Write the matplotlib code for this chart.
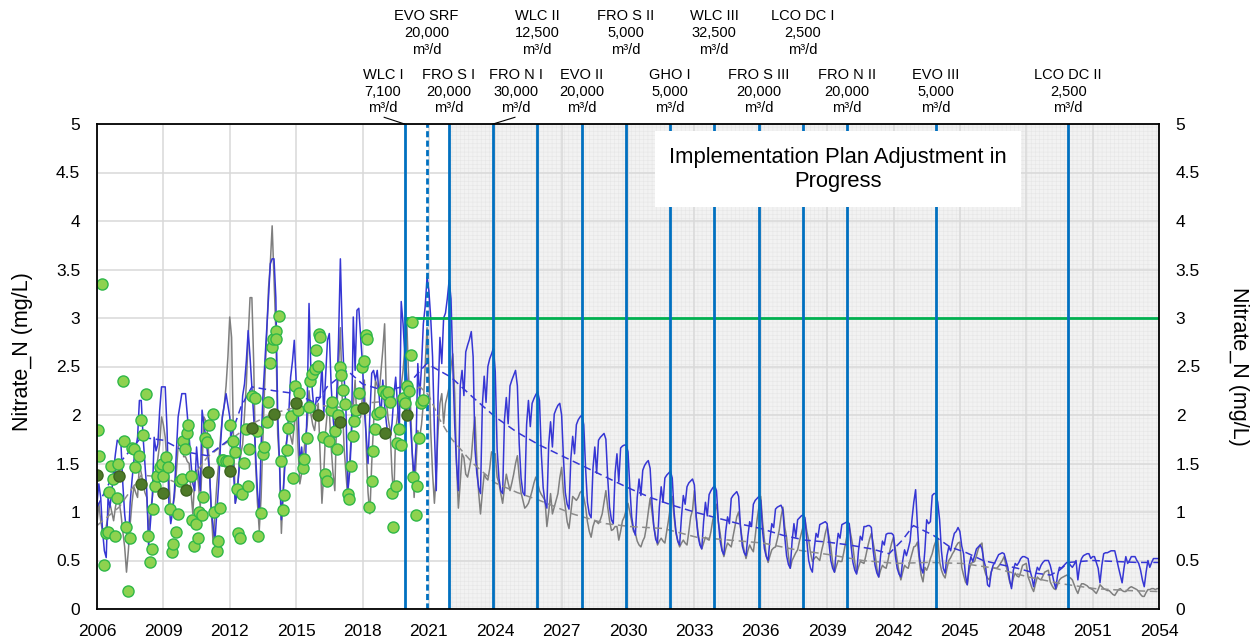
import numpy as np
import matplotlib
matplotlib.use("Agg")
import matplotlib.pyplot as plt
from matplotlib.transforms import blended_transform_factory
from matplotlib.patches import Rectangle

plt.rcParams['font.family'] = ['Liberation Sans', 'DejaVu Sans']
plt.rcParams['hatch.linewidth'] = 0.4

# ---------------- data ----------------
start_year = 2006
# Simulated blue series, monthly values (Jan..Dec), 2006-2021
blue_hist = [
    [1.09, 1.29, 1.15, 0.81, 0.60, 0.53, 1.15, 1.05, 1.20, 1.43, 1.60, 1.74],
    [1.72, 1.70, 1.29, 0.98, 0.80, 0.67, 1.10, 1.33, 1.53, 1.65, 1.77, 2.15],
    [2.15, 1.77, 1.50, 1.22, 0.64, 0.90, 1.15, 1.77, 1.63, 1.70, 2.05, 2.29],
    [2.29, 2.29, 1.84, 1.09, 0.88, 1.00, 1.22, 1.60, 1.98, 2.10, 2.22, 2.22],
    [2.22, 2.00, 1.77, 1.50, 1.29, 1.22, 1.67, 1.43, 1.22, 2.05, 1.90, 1.77],
    [1.60, 1.43, 1.01, 0.85, 0.71, 1.00, 1.29, 1.70, 1.98, 2.10, 2.22, 2.10],
    [1.98, 1.70, 1.43, 1.09, 1.20, 1.43, 1.84, 2.20, 2.32, 2.56, 2.87, 2.60],
    [2.29, 1.98, 1.60, 1.22, 0.98, 1.67, 2.20, 2.53, 2.87, 3.20, 3.56, 3.61],
    [3.61, 3.21, 2.01, 1.50, 0.92, 1.20, 1.50, 1.75, 2.01, 2.39, 2.55, 2.77],
    [2.36, 2.12, 1.50, 1.67, 1.43, 1.43, 2.12, 3.15, 2.46, 2.20, 2.01, 2.18],
    [2.18, 2.18, 2.53, 2.00, 2.40, 2.77, 2.84, 2.30, 1.98, 1.77, 2.20, 2.77],
    [3.61, 2.87, 2.40, 2.08, 1.22, 1.40, 1.77, 3.01, 2.46, 3.08, 3.10, 2.80],
    [2.53, 2.05, 1.80, 1.50, 2.00, 2.43, 2.46, 2.36, 2.46, 2.20, 1.98, 2.36],
    [2.10, 1.91, 1.77, 1.77, 1.91, 2.20, 2.39, 2.10, 1.84, 3.17, 2.94, 2.60],
    [2.40, 2.20, 1.91, 1.60, 1.36, 1.67, 2.53, 2.18, 2.50, 2.94, 3.12, 3.42],
    [3.28, 3.00, 2.60, 1.84, 1.22, 2.20, 2.80, 2.53, 3.00, 3.05, 3.20, 3.39],
]
# Blue series forecast, 2022-2053, plus Jan 2054
blue_future = [
    [3.20, 2.50, 1.90, 1.50, 1.22, 2.30, 2.46, 2.20, 2.65, 2.72, 2.78, 2.86],
    [2.60, 1.65, 1.40, 1.25, 1.19, 2.10, 2.40, 2.13, 2.50, 2.58, 2.63, 2.69],
    [2.45, 1.65, 1.35, 1.22, 1.19, 1.95, 2.18, 1.91, 2.30, 2.36, 2.41, 2.46],
    [2.30, 1.70, 1.35, 1.20, 1.17, 1.90, 2.15, 1.88, 2.12, 2.17, 2.21, 2.24],
    [2.15, 1.60, 1.25, 1.10, 1.04, 1.70, 1.93, 1.67, 2.01, 2.06, 2.10, 2.12],
    [2.00, 1.55, 1.20, 1.08, 1.03, 1.55, 1.78, 1.60, 1.90, 1.95, 1.98, 2.00],
    [1.90, 1.45, 1.10, 0.98, 0.94, 1.45, 1.67, 1.40, 1.74, 1.77, 1.79, 1.81],
    [1.75, 1.35, 1.05, 0.92, 0.88, 1.40, 1.60, 1.31, 1.66, 1.68, 1.69, 1.69],
    [1.62, 1.25, 0.95, 0.82, 0.76, 1.15, 1.34, 1.17, 1.43, 1.48, 1.51, 1.53],
    [1.45, 1.10, 0.85, 0.72, 0.68, 1.05, 1.26, 1.10, 1.35, 1.38, 1.40, 1.42],
    [1.35, 1.00, 0.80, 0.70, 0.66, 0.95, 1.17, 1.08, 1.26, 1.30, 1.32, 1.34],
    [1.28, 0.95, 0.75, 0.66, 0.62, 0.90, 1.10, 0.96, 1.18, 1.22, 1.25, 1.27],
    [1.22, 0.90, 0.70, 0.60, 0.56, 0.80, 0.95, 0.88, 1.14, 1.17, 1.19, 1.21],
    [1.16, 0.85, 0.65, 0.58, 0.55, 0.75, 0.90, 0.85, 1.08, 1.12, 1.14, 1.16],
    [1.12, 0.80, 0.62, 0.54, 0.50, 0.72, 0.88, 0.84, 1.03, 1.05, 1.06, 1.07],
    [1.02, 0.75, 0.55, 0.46, 0.42, 0.70, 0.88, 0.74, 0.92, 0.94, 0.96, 0.97],
    [0.94, 0.70, 0.50, 0.42, 0.38, 0.62, 0.78, 0.74, 0.87, 0.88, 0.89, 0.90],
    [0.88, 0.68, 0.50, 0.42, 0.38, 0.62, 0.78, 0.73, 0.87, 0.88, 0.89, 0.90],
    [0.88, 0.65, 0.48, 0.40, 0.36, 0.60, 0.75, 0.71, 0.85, 0.85, 0.86, 0.86],
    [0.84, 0.60, 0.45, 0.37, 0.33, 0.55, 0.70, 0.66, 0.77, 0.78, 0.78, 0.78],
    [0.76, 0.55, 0.42, 0.36, 0.33, 0.50, 0.61, 0.55, 0.62, 0.70, 0.92, 1.10],
    [1.23, 0.85, 0.55, 0.42, 0.37, 0.60, 0.92, 0.88, 0.90, 1.17, 1.19, 1.19],
    [1.10, 0.92, 0.60, 0.42, 0.37, 0.55, 0.64, 0.60, 0.70, 0.78, 0.80, 0.84],
    [0.80, 0.65, 0.57, 0.35, 0.25, 0.45, 0.54, 0.49, 0.55, 0.62, 0.64, 0.66],
    [0.62, 0.50, 0.43, 0.25, 0.23, 0.38, 0.45, 0.48, 0.52, 0.56, 0.57, 0.58],
    [0.57, 0.50, 0.43, 0.30, 0.21, 0.40, 0.47, 0.45, 0.48, 0.52, 0.54, 0.54],
    [0.53, 0.52, 0.40, 0.33, 0.23, 0.35, 0.43, 0.40, 0.45, 0.48, 0.50, 0.50],
    [0.50, 0.45, 0.37, 0.28, 0.21, 0.35, 0.43, 0.42, 0.44, 0.46, 0.48, 0.48],
    [0.45, 0.43, 0.46, 0.50, 0.30, 0.45, 0.52, 0.55, 0.56, 0.57, 0.57, 0.52],
    [0.54, 0.54, 0.48, 0.42, 0.27, 0.45, 0.57, 0.58, 0.58, 0.59, 0.60, 0.60],
    [0.60, 0.52, 0.43, 0.35, 0.27, 0.42, 0.54, 0.47, 0.50, 0.54, 0.54, 0.54],
    [0.50, 0.47, 0.40, 0.30, 0.23, 0.38, 0.50, 0.43, 0.48, 0.52, 0.52, 0.52],
]
blue_last = [0.52]

# Gray series, monthly values (Jan..Dec), 2006-2021
gray_hist = [
    [0.88, 1.09, 0.91, 0.80, 0.74, 0.85, 0.95, 1.09, 1.00, 0.91, 1.05, 1.15],
    [1.10, 0.98, 0.80, 0.64, 0.38, 0.60, 0.88, 1.10, 1.26, 1.20, 1.15, 1.50],
    [1.40, 1.29, 1.20, 1.15, 0.81, 1.00, 1.15, 1.30, 1.43, 1.55, 1.70, 1.98],
    [1.90, 1.77, 1.50, 1.36, 0.98, 1.05, 1.15, 1.40, 1.67, 1.72, 1.77, 1.57],
    [1.57, 1.52, 1.50, 1.20, 0.98, 1.36, 1.43, 1.30, 1.05, 1.50, 1.98, 1.94],
    [1.80, 1.43, 1.00, 0.67, 1.00, 1.29, 1.50, 1.77, 1.98, 2.10, 2.30, 2.60],
    [3.01, 2.80, 1.77, 1.09, 1.20, 1.43, 1.60, 1.70, 2.00, 2.32, 2.80, 3.21],
    [3.21, 2.53, 1.50, 1.10, 0.81, 1.15, 1.77, 2.35, 2.80, 3.30, 3.56, 3.95],
    [3.40, 2.87, 1.80, 1.50, 0.78, 1.20, 1.64, 1.75, 1.84, 1.78, 1.70, 1.90],
    [2.12, 1.67, 1.29, 1.40, 1.57, 1.77, 1.90, 2.25, 2.01, 1.90, 1.84, 2.00],
    [2.12, 1.60, 1.09, 1.40, 1.84, 2.05, 2.05, 1.67, 1.40, 1.22, 2.00, 2.50],
    [2.90, 2.18, 1.67, 1.40, 1.15, 1.50, 1.84, 2.10, 2.36, 1.91, 1.95, 1.98],
    [2.20, 2.36, 1.67, 1.20, 0.98, 1.50, 1.90, 2.36, 2.30, 2.22, 2.45, 2.67],
    [2.94, 2.12, 1.95, 1.84, 1.40, 1.15, 1.84, 2.00, 2.18, 2.30, 2.46, 2.70],
    [2.98, 2.40, 2.12, 1.60, 1.15, 1.50, 1.84, 1.77, 1.90, 2.12, 2.50, 2.90],
    [2.46, 1.84, 1.40, 1.09, 1.40, 1.84, 2.12, 2.22, 1.91, 2.12, 2.20, 2.29],
]
# Gray series forecast, 2022-2053, plus Jan 2054
gray_future = [
    [2.50, 2.63, 2.22, 1.50, 1.04, 1.30, 1.60, 1.56, 1.39, 1.36, 1.45, 1.56],
    [1.80, 1.98, 1.53, 1.20, 0.98, 1.20, 1.39, 1.35, 1.33, 1.45, 1.62, 1.60],
    [1.60, 1.36, 1.30, 1.19, 1.09, 1.25, 1.39, 1.30, 1.22, 1.30, 1.39, 1.50],
    [1.58, 1.36, 1.20, 1.12, 1.04, 1.06, 1.09, 1.15, 1.22, 1.30, 1.36, 1.30],
    [1.22, 1.18, 1.15, 1.12, 0.85, 1.00, 1.19, 0.98, 1.05, 1.12, 1.19, 1.35],
    [1.46, 1.20, 1.05, 0.90, 0.83, 1.00, 1.16, 1.14, 1.12, 1.15, 1.20, 1.22],
    [1.15, 1.05, 0.90, 0.80, 0.74, 0.85, 0.91, 0.90, 0.88, 0.92, 0.98, 1.10],
    [1.22, 1.05, 0.91, 0.81, 0.82, 0.85, 0.85, 0.71, 0.80, 0.91, 0.95, 1.02],
    [1.09, 1.00, 0.90, 0.80, 0.78, 0.70, 0.66, 0.64, 0.70, 0.74, 0.85, 1.00],
    [1.14, 1.00, 0.85, 0.75, 0.66, 0.70, 0.73, 0.70, 0.68, 0.80, 0.92, 1.05],
    [1.16, 0.95, 0.78, 0.70, 0.64, 0.68, 0.71, 0.68, 0.66, 0.80, 0.95, 1.02],
    [1.22, 0.95, 0.78, 0.68, 0.62, 0.68, 0.74, 0.72, 0.71, 0.80, 0.92, 1.00],
    [1.08, 0.90, 0.78, 0.62, 0.54, 0.62, 0.68, 0.66, 0.64, 0.75, 0.85, 0.95],
    [1.00, 0.85, 0.71, 0.60, 0.52, 0.60, 0.66, 0.62, 0.59, 0.75, 0.92, 1.05],
    [1.16, 0.90, 0.71, 0.55, 0.48, 0.55, 0.61, 0.63, 0.64, 0.72, 0.81, 0.95],
    [1.05, 0.85, 0.74, 0.55, 0.42, 0.50, 0.54, 0.58, 0.61, 0.70, 0.78, 0.85],
    [0.92, 0.80, 0.71, 0.58, 0.49, 0.52, 0.54, 0.52, 0.50, 0.60, 0.68, 0.78],
    [0.85, 0.75, 0.64, 0.48, 0.38, 0.44, 0.50, 0.49, 0.49, 0.58, 0.68, 0.78],
    [0.85, 0.75, 0.64, 0.48, 0.37, 0.43, 0.49, 0.48, 0.47, 0.55, 0.64, 0.72],
    [0.78, 0.68, 0.57, 0.42, 0.33, 0.40, 0.45, 0.43, 0.42, 0.50, 0.60, 0.68],
    [0.74, 0.62, 0.50, 0.38, 0.30, 0.38, 0.45, 0.43, 0.42, 0.50, 0.57, 0.64],
    [0.65, 0.69, 0.50, 0.35, 0.28, 0.43, 0.40, 0.45, 0.52, 0.57, 0.65, 0.70],
    [0.73, 0.49, 0.40, 0.35, 0.32, 0.42, 0.50, 0.53, 0.57, 0.60, 0.65, 0.68],
    [0.69, 0.43, 0.35, 0.28, 0.25, 0.40, 0.47, 0.48, 0.49, 0.55, 0.62, 0.66],
    [0.68, 0.43, 0.36, 0.32, 0.30, 0.38, 0.43, 0.42, 0.42, 0.44, 0.47, 0.50],
    [0.54, 0.45, 0.37, 0.28, 0.23, 0.32, 0.37, 0.34, 0.33, 0.38, 0.45, 0.46],
    [0.47, 0.33, 0.28, 0.22, 0.18, 0.26, 0.33, 0.31, 0.30, 0.34, 0.38, 0.39],
    [0.40, 0.28, 0.24, 0.21, 0.20, 0.25, 0.30, 0.32, 0.33, 0.34, 0.35, 0.33],
    [0.32, 0.30, 0.25, 0.20, 0.16, 0.22, 0.26, 0.26, 0.25, 0.24, 0.22, 0.21],
    [0.20, 0.18, 0.16, 0.20, 0.25, 0.23, 0.21, 0.20, 0.19, 0.19, 0.17, 0.15],
    [0.14, 0.17, 0.20, 0.21, 0.19, 0.18, 0.18, 0.20, 0.22, 0.23, 0.22, 0.21],
    [0.20, 0.18, 0.15, 0.13, 0.13, 0.17, 0.20, 0.20, 0.21, 0.21, 0.20, 0.21],
]
gray_last = [0.21]

# Trend lines (12-month averages)
blue_trend_x = [2006.0, 2007.0, 2008.0, 2009.0, 2010.0, 2011.0, 2012.0, 2012.5, 2013.0, 2014.0,
                2015.0, 2015.9, 2016.4, 2017.0, 2017.3, 2018.0, 2019.0, 2020.0, 2020.9, 2022.0,
                2023.0, 2024.0, 2025.0, 2026.0, 2027.0, 2028.0, 2029.0, 2030.0, 2031.0, 2032.0,
                2033.0, 2034.0, 2035.0, 2036.0, 2037.0, 2038.0, 2039.0, 2040.0, 2041.0, 2041.8,
                2042.4, 2042.9, 2043.8, 2044.55, 2045.3, 2046.05, 2046.8, 2047.6, 2048.4, 2049.1,
                2049.5, 2049.9, 2051.0, 2052.0, 2053.0, 2054.0]
blue_trend = [1.05, 1.50, 1.77, 1.74, 1.62, 1.58, 1.75, 2.08, 2.29, 2.25,
              2.22, 2.12, 2.29, 2.40, 2.46, 2.32, 2.25, 2.30, 2.53, 2.39,
              2.18, 1.98, 1.82, 1.69, 1.58, 1.47, 1.36, 1.25, 1.15, 1.07,
              1.00, 0.94, 0.88, 0.83, 0.76, 0.71, 0.69, 0.66, 0.62, 0.57,
              0.71, 0.86, 0.76, 0.64, 0.58, 0.50, 0.46, 0.42, 0.37, 0.35,
              0.40, 0.48, 0.50, 0.49, 0.48, 0.48]
gray_trend_x = [2006.0, 2007.0, 2008.0, 2009.0, 2010.0, 2011.0, 2012.0, 2013.0, 2014.0, 2015.0,
                2016.0, 2017.0, 2018.0, 2019.0, 2020.0, 2020.6, 2021.0, 2021.5, 2022.0, 2023.0,
                2024.0, 2025.0, 2026.0, 2027.5, 2029.0, 2030.1, 2031.6, 2033.1, 2034.6, 2036.1,
                2037.6, 2039.1, 2040.6, 2042.1, 2043.6, 2045.1, 2046.6, 2048.1, 2049.6, 2051.1,
                2052.6, 2054.0]
gray_trend = [0.86, 1.05, 1.38, 1.36, 1.26, 1.57, 1.74, 1.91, 2.02, 2.08,
              2.10, 2.08, 2.12, 2.14, 2.20, 2.29, 2.20, 1.95, 1.76, 1.50,
              1.30, 1.20, 1.12, 0.98, 0.88, 0.85, 0.83, 0.74, 0.71, 0.68,
              0.61, 0.56, 0.50, 0.47, 0.48, 0.47, 0.42, 0.33, 0.26, 0.21,
              0.19, 0.18]

# Observed samples
obs_year = [2006.06, 2006.10, 2006.24, 2006.32, 2006.40, 2006.48, 2006.56, 2006.63, 2006.74, 2006.81,
            2006.89, 2006.96, 2007.16, 2007.24, 2007.31, 2007.39, 2007.49, 2007.57, 2007.67, 2007.72,
            2007.91, 2007.97, 2008.06, 2008.21, 2008.32, 2008.40, 2008.47, 2008.55, 2008.62, 2008.70,
            2008.85, 2008.92, 2009.00, 2009.10, 2009.22, 2009.30, 2009.37, 2009.45, 2009.56, 2009.65,
            2009.75, 2009.83, 2009.90, 2009.98, 2010.05, 2010.13, 2010.23, 2010.28, 2010.40, 2010.47,
            2010.55, 2010.62, 2010.73, 2010.80, 2010.88, 2010.96, 2011.08, 2011.23, 2011.29, 2011.41,
            2011.48, 2011.56, 2011.63, 2011.71, 2011.82, 2011.92, 2012.01, 2012.13, 2012.24, 2012.31,
            2012.39, 2012.46, 2012.57, 2012.66, 2012.72, 2012.83, 2012.89, 2013.02, 2013.14, 2013.22,
            2013.29, 2013.41, 2013.49, 2013.55, 2013.67, 2013.71, 2013.82, 2013.90, 2013.95, 2014.08,
            2014.10, 2014.23, 2014.30, 2014.39, 2014.47, 2014.57, 2014.65, 2014.77, 2014.87, 2014.95,
            2015.07, 2015.14, 2015.33, 2015.36, 2015.48, 2015.60, 2015.63, 2015.73, 2015.85, 2015.90,
            2015.97, 2016.05, 2016.10, 2016.20, 2016.30, 2016.38, 2016.50, 2016.58, 2016.64, 2016.76,
            2016.83, 2016.90, 2016.98, 2017.05, 2017.10, 2017.21, 2017.36, 2017.41, 2017.47, 2017.56,
            2017.63, 2017.71, 2017.86, 2017.96, 2018.08, 2018.15, 2018.20, 2018.31, 2018.41, 2018.49,
            2018.56, 2018.64, 2018.79, 2018.91, 2019.05, 2019.14, 2019.24, 2019.32, 2019.39, 2019.50,
            2019.54, 2019.65, 2019.74, 2019.85, 2019.92, 2020.00, 2020.10, 2020.18, 2020.24, 2020.30,
            2020.42, 2020.48, 2020.57, 2020.63, 2020.75]
obs_val = [1.85, 1.58, 3.35, 0.45, 0.78, 0.79, 1.21, 1.47, 1.34, 0.75,
           1.14, 1.49, 2.35, 1.73, 0.85, 0.19, 0.73, 1.66, 1.65, 1.46,
           1.58, 1.95, 1.79, 2.22, 0.75, 0.48, 0.62, 1.03, 1.27, 1.37,
           1.46, 1.49, 1.37, 1.57, 1.46, 1.03, 0.59, 0.67, 0.79, 0.98,
           1.32, 1.34, 1.73, 1.65, 1.81, 1.90, 1.37, 0.92, 0.65, 0.88,
           0.73, 1.00, 0.97, 1.15, 1.76, 1.72, 1.90, 2.01, 1.00, 0.60,
           0.70, 1.04, 1.54, 1.54, 1.53, 1.53, 1.90, 1.73, 1.62, 1.24,
           0.78, 0.73, 1.19, 1.51, 1.86, 1.27, 1.65, 2.20, 2.18, 1.83,
           0.75, 0.99, 1.60, 1.67, 1.93, 2.13, 2.54, 2.70, 2.78, 2.87,
           2.78, 3.02, 1.53, 1.02, 1.18, 1.64, 1.87, 1.99, 1.35, 2.30,
           2.05, 2.23, 1.45, 1.55, 1.76, 2.08, 2.35, 2.42, 2.47, 2.67,
           2.51, 2.84, 2.80, 1.77, 1.39, 1.32, 1.73, 2.05, 2.13, 1.84,
           1.65, 2.00, 2.49, 2.41, 2.26, 2.11, 1.19, 1.13, 1.47, 1.78,
           1.94, 2.05, 2.23, 2.49, 2.56, 2.82, 2.78, 1.05, 1.32, 1.63,
           1.86, 2.01, 2.03, 2.25, 2.22, 2.24, 2.13, 1.20, 0.85, 1.27,
           1.71, 1.86, 1.69, 2.18, 2.12, 2.30, 2.25, 2.62, 2.96, 1.36,
           0.97, 1.27, 1.76, 2.12, 2.15]

# Annual averages of observations
annual_year = [2006, 2007, 2008, 2009, 2010, 2011, 2012, 2013, 2014, 2015, 2016, 2017, 2018, 2019, 2020]
annual_val = [1.38, 1.37, 1.29, 1.20, 1.23, 1.41, 1.42, 1.87, 2.01, 2.12, 2.00, 1.93, 2.07, 1.81, 2.00]

# Projects (upper / lower annotation rows)
upper_names = ["EVO SRF", "WLC II", "FRO S II", "WLC III", "LCO DC I"]
upper_flows = ["20,000", "12,500", "5,000", "32,500", "2,500"]
upper_years = [2020.9, 2025.9, 2029.9, 2033.9, 2037.9]
lower_names = ["WLC I", "FRO S I", "FRO N I", "EVO II", "GHO I", "FRO S III", "FRO N II", "EVO III", "LCO DC II"]
lower_flows = ["7,100", "20,000", "30,000", "20,000", "5,000", "20,000", "20,000", "5,000", "2,500"]
lower_years = [2019.9, 2021.9, 2023.9, 2027.9, 2031.9, 2035.9, 2039.9, 2043.9, 2049.9]
dashed_project = "EVO SRF"

objective = 3.0
objective_start = 2019.9
plan_start = 2021.9
x_ticks = list(range(2006, 2055, 3))
y_ticks = [0, 0.5, 1, 1.5, 2, 2.5, 3, 3.5, 4, 4.5, 5]
y_ticklabels = ["0", "0.5", "1", "1.5", "2", "2.5", "3", "3.5", "4", "4.5", "5"]
box_text = "Implementation Plan Adjustment in\nProgress"
y_label = "Nitrate_N (mg/L)"

# ---------------- figure ----------------
W, H = 1257, 642
fig = plt.figure(figsize=(W / 100, H / 100), dpi=100)
L, R, T, B = 97, 1159, 124, 609
ax = fig.add_axes([L / W, 1 - B / H, (R - L) / W, (B - T) / H])
ax.set_xlim(2006, 2054)
ax.set_ylim(0, 5)

blue_vals = [v for row in blue_hist + blue_future for v in row] + blue_last
gray_vals = [v for row in gray_hist + gray_future for v in row] + gray_last
blue_x = start_year + np.arange(len(blue_vals)) / 12.0
gray_x = start_year + np.arange(len(gray_vals)) / 12.0

# background forecast zone
ax.axvspan(plan_start, 2054, facecolor='#f2f2f2', edgecolor='#e6e6e6', hatch='++++',
           linewidth=0, zorder=0.3)

ax.set_axisbelow(True)
ax.grid(True, color='#d9d9d9', linewidth=1.1, zorder=0.5)
ax.set_xticks(x_ticks)
ax.set_yticks(y_ticks)
ax.set_yticklabels(y_ticklabels)
ax.tick_params(axis='both', length=0, labelsize=12.5)
ax.tick_params(axis='x', pad=11)
ax.tick_params(axis='y', pad=12)
for s in ax.spines.values():
    s.set_color('black')
    s.set_linewidth(1.3)
    s.set_zorder(10)

ax.plot(gray_x, gray_vals, color='#7f7f7f', lw=1.1, zorder=2)
ax.plot(blue_x, blue_vals, color='#3636d4', lw=1.1, zorder=2.1)
ax.plot(gray_trend_x, gray_trend, color='#8c8c8c', lw=1.1, ls=(0, (5, 3)), zorder=2.2)
ax.plot(blue_trend_x, blue_trend, color='#3636d4', lw=1.1, ls=(0, (5, 3)), zorder=2.3)

# objective line
ax.plot([objective_start, 2054], [objective, objective], color='#00b050', lw=2, zorder=3)

# project lines
all_years = lower_years + upper_years
all_names = lower_names + upper_names
for yr, nm in zip(all_years, all_names):
    if nm == dashed_project:
        ax.axvline(yr, color='#0070c0', lw=2, ls=(0, (2.2, 1.2)), zorder=3)
    else:
        ax.axvline(yr, color='#0070c0', lw=2, zorder=3)

# observations
ax.plot(obs_year, obs_val, 'o', ms=8, mfc='#8ed24f', mec='#2fb848', mew=1.0, zorder=4)
ax.plot(annual_year, annual_val, 'o', ms=8, mfc='#4e7a28', mec='#3d6420', mew=1.0, zorder=4.5)

# text box
ax.add_patch(Rectangle((2031.2, 4.14), 16.55, 0.79, facecolor='white', edgecolor='none', zorder=6))
ax.text(2039.5, 4.53, box_text, ha='center', va='center', fontsize=15.8, linespacing=1.15, zorder=7)

# labels
ax.set_ylabel(y_label, fontsize=15.5, va='center')
ax.yaxis.set_label_coords((22 - L) / (R - L), 0.53)
ax2 = ax.twinx()
ax2.set_ylim(0, 5)
ax2.set_yticks(y_ticks)
ax2.set_yticklabels(y_ticklabels)
ax2.tick_params(axis='y', length=0, labelsize=12.5, pad=12)
for s in ax2.spines.values():
    s.set_visible(False)
ax2.set_ylabel(y_label, fontsize=15.5, rotation=-90, va='center')
ax2.yaxis.set_label_coords((1238 - L) / (R - L), 0.5)

# annotations above the plot
tr = blended_transform_factory(ax.transData, fig.transFigure)
def fy(p):
    return 1 - p / H

label_offset = {"WLC I": -0.97, "FRO N I": 1.04}
for names, flows, yrs, rows in ((upper_names, upper_flows, upper_years, (16.5, 33.3, 50)),
                                (lower_names, lower_flows, lower_years, (75, 91.7, 108.3))):
    for nm, fl, yr in zip(names, flows, yrs):
        xt = yr + label_offset.get(nm, 0)
        for s, py in zip((nm, fl, "m³/d"), rows):
            ax.text(xt, fy(py), s, transform=tr, ha='center', va='center', fontsize=10.5)
        if nm in label_offset:
            x0 = xt + (0.05 if nm == "WLC I" else -0.05)
            ax.plot([x0, yr], [fy(117.3), fy(124)], transform=tr, color='black', lw=0.8,
                    clip_on=False)

fig.savefig("out.png", dpi=100)
